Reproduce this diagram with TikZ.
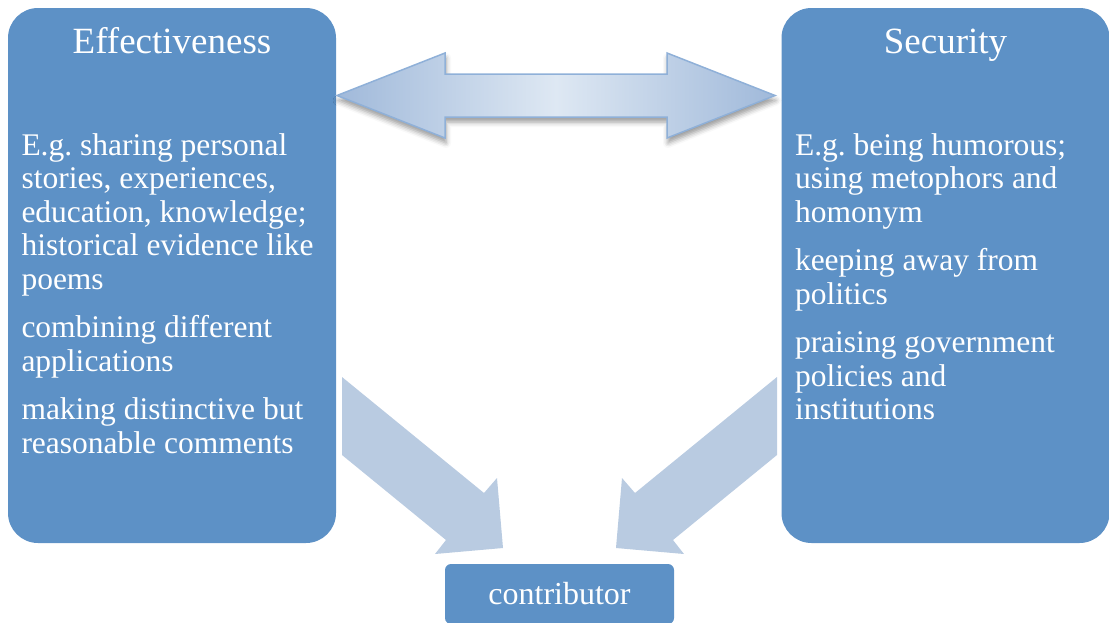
\documentclass[tikz,border=0pt]{standalone}
\usepackage{fontspec}
\setmainfont{Liberation Serif}
\usetikzlibrary{positioning,shadows.blur}

\definecolor{boxblue}{RGB}{93,145,198}
\definecolor{lowarrow}{RGB}{185,203,225}
\definecolor{arrowdark}{RGB}{160,185,218}
\definecolor{arrowlight}{RGB}{222,232,243}
\definecolor{arrowline}{RGB}{143,176,216}

% outline of the two-way arrow
\newcommand\bothwayspath{(337,95.5) -- (445,53) -- (445,74) -- (667,74)
    -- (667,53) -- (775,95.5) -- (667,138) -- (667,117) -- (445,117)
    -- (445,138) -- cycle}

\tikzset{
    bigbox/.style={fill=boxblue, rounded corners=30pt, minimum width=328pt,
        minimum height=535pt, inner sep=0pt},
    smallbox/.style={fill=boxblue, rounded corners=6pt, minimum width=229pt,
        minimum height=60pt, inner sep=0pt, text=white,
        font=\fontsize{32}{36}\selectfont},
    boxtitle/.style={text=white, font=\fontsize{37}{40}\selectfont,
        anchor=base, inner sep=0pt},
    boxbody/.style={text=white, font=\fontsize{31.5}{33.5}\selectfont,
        align=left, anchor=north west, inner sep=0pt},
    downarrow/.style={fill=lowarrow, draw=none},
    % middle color has to come last, left/right color reset it
    bothways/.style={left color=arrowdark, right color=arrowdark,
        middle color=arrowlight, draw=arrowline, line width=1.5pt,
        line join=miter},
    bothwaysshadow/.style={blur shadow={shadow xshift=1pt, shadow yshift=-5pt,
        shadow blur radius=5pt, shadow opacity=40}}
}

\begin{document}
\frenchspacing
\begin{tikzpicture}[x=1pt, y=-1pt]
    \useasboundingbox (0,0) rectangle (1109,622);

    % arrows down to the contributor (drawn first, under the boxes)
    \fill[downarrow] (342,377) -- (484,493) -- (497,478) -- (503,548)
        -- (435,554) -- (446,540) -- (342,455) -- cycle;
    \fill[downarrow] (777,377) -- (635,493) -- (622,478) -- (616,548)
        -- (684,554) -- (673,540) -- (777,455) -- cycle;

    % effectiveness box
    \node[bigbox] (eff) at (172,275.5) {};
    \node[boxtitle] (effTitle) at ([yshift=-46pt]eff.north) {Effectiveness};
    \node[boxbody] (effBody) at ([xshift=13.5pt, yshift=-125.5pt]eff.north west)
        {E.g. sharing personal\\ stories, experiences,\\ education, knowledge;\\
         historical evidence like\\ poems\\[15pt]
         combining different\\ applications\\[15pt]
         making distinctive but\\ reasonable comments};

    % security box
    \node[bigbox] (sec) at (945.5,275.5) {};
    \node[boxtitle] (secTitle) at ([yshift=-46pt]sec.north) {Security};
    \node[boxbody] (secBody) at ([xshift=13.5pt, yshift=-125.5pt]sec.north west)
        {E.g. being humorous;\\ using metophors and\\ homonym\\[15pt]
         keeping away from\\ politics\\[15pt]
         praising government\\ policies and\\ institutions};

    % two-way arrow between the boxes, shadow first
    \path[bothwaysshadow] \bothwayspath;
    \shadedraw[bothways] \bothwayspath;

    % contributor
    \node[smallbox] (contrib) at (559.5,594) {contributor};
\end{tikzpicture}
\end{document}
